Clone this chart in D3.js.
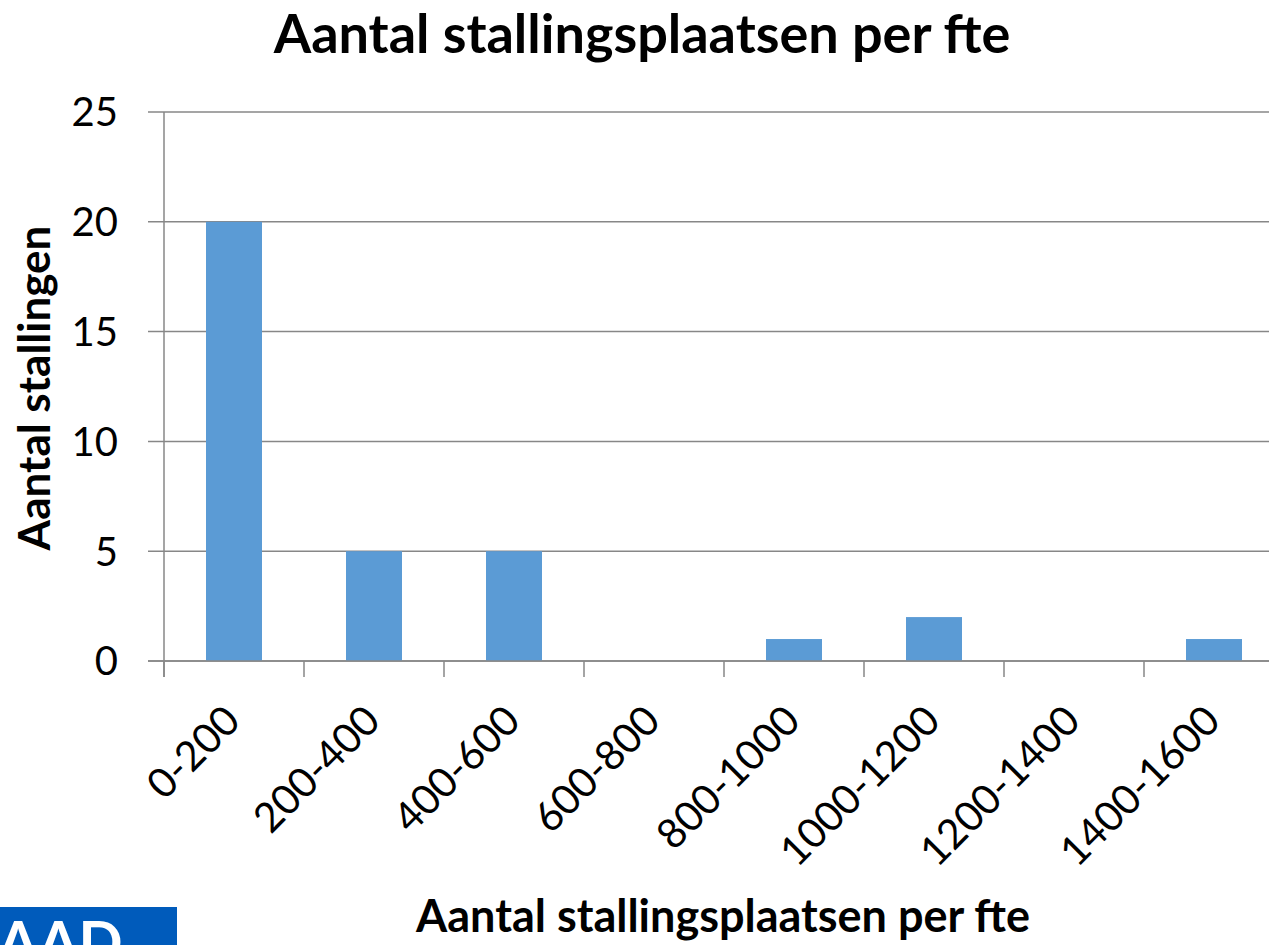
<!DOCTYPE html>
<html>
<head>
<meta charset="utf-8">
<script src="https://cdn.jsdelivr.net/npm/d3@7"></script>
<style>
  body { margin: 0; background: #fff; }
  svg { display: block; font-family: Lato, "Open Sans", sans-serif; }
</style>
</head>
<body>
<svg id="chart" width="1269" height="945"></svg>
<script>
// categories and values
var categories = ["0-200", "200-400", "400-600", "600-800", "800-1000", "1000-1200", "1200-1400", "1400-1600"];
var counts = [20, 5, 5, 0, 1, 2, 0, 1];
var yTicks = [0, 5, 10, 15, 20, 25];

var chartTitle = "Aantal stallingsplaatsen per fte";
var xTitle = "Aantal stallingsplaatsen per fte";
var yTitle = "Aantal stallingen";

var svg = d3.select("#chart");

// plot area (runs off the right edge, like the original)
var plotLeft = 164, plotRight = 1284, plotTop = 112, plotBottom = 661;

var x = d3.scaleBand()
    .domain(categories)
    .range([plotLeft, plotRight])
    .paddingInner(0.6)
    .paddingOuter(0.3);

var y = d3.scaleLinear()
    .domain([0, 25])
    .range([plotBottom, plotTop]);

var gridColor = "#878787";

// horizontal gridlines
svg.append("g")
    .selectAll("line")
    .data(yTicks)
    .enter().append("line")
    .attr("x1", plotLeft - 16)
    .attr("x2", plotRight)
    .attr("y1", function (d) { return y(d); })
    .attr("y2", function (d) { return y(d); })
    .attr("stroke", gridColor)
    .attr("stroke-width", 1.5);

// y axis line
svg.append("line")
    .attr("x1", plotLeft).attr("x2", plotLeft)
    .attr("y1", plotTop).attr("y2", plotBottom + 16)
    .attr("stroke", gridColor)
    .attr("stroke-width", 1.5);

// category separator ticks
var step = x.step();
svg.append("g")
    .selectAll("line")
    .data(d3.range(categories.length + 1))
    .enter().append("line")
    .attr("x1", function (i) { return plotLeft + i * step; })
    .attr("x2", function (i) { return plotLeft + i * step; })
    .attr("y1", plotBottom)
    .attr("y2", plotBottom + 16)
    .attr("stroke", gridColor)
    .attr("stroke-width", 1.5);

// bars
svg.append("g")
    .selectAll("rect")
    .data(counts)
    .enter().append("rect")
    .attr("x", function (d, i) { return x(categories[i]); })
    .attr("width", x.bandwidth())
    .attr("y", function (d) { return y(d); })
    .attr("height", function (d) { return plotBottom - y(d); })
    .attr("fill", "#5b9bd5");

// redraw the baseline on top of bars
svg.append("line")
    .attr("x1", plotLeft - 16).attr("x2", plotRight)
    .attr("y1", plotBottom).attr("y2", plotBottom)
    .attr("stroke", gridColor)
    .attr("stroke-width", 1.5);

// y tick labels
svg.append("g")
    .selectAll("text")
    .data(yTicks)
    .enter().append("text")
    .attr("x", 118)
    .attr("y", function (d) { return y(d); })
    .attr("dy", "0.36em")
    .attr("text-anchor", "end")
    .style("font-size", "40px")
    .text(function (d) { return d; });

// x tick labels, rotated -45
svg.append("g")
    .selectAll("text")
    .data(categories)
    .enter().append("text")
    .attr("transform", function (d) {
        return "translate(" + (x(d) + x.bandwidth() / 2 - 12) + "," + 703 + ") rotate(-45)";
    })
    .attr("text-anchor", "end")
    .attr("dy", "0.7em")
    .style("font-size", "41px")
    .text(function (d) { return d; });

// chart title
svg.append("text")
    .attr("x", 642)
    .attr("y", 53)
    .attr("text-anchor", "middle")
    .style("font-size", "54px")
    .style("font-weight", "bold")
    .text(chartTitle);

// y axis title
svg.append("text")
    .attr("transform", "translate(50,388) rotate(-90)")
    .attr("text-anchor", "middle")
    .style("font-size", "44px")
    .style("font-weight", "bold")
    .text(yTitle);

// x axis title
svg.append("text")
    .attr("x", 723)
    .attr("y", 932)
    .attr("text-anchor", "middle")
    .style("font-size", "45px")
    .style("font-weight", "bold")
    .text(xTitle);

// logo fragment in the lower left corner
svg.append("rect")
    .attr("x", 0).attr("y", 907)
    .attr("width", 177).attr("height", 38)
    .attr("fill", "#005bbb");
svg.append("text")
    .attr("x", -2)
    .attr("y", 963)
    .style("font-size", "58px")
    .style("font-weight", "bold")
    .attr("fill", "#fff")
    .text("AAD");
</script>
</body>
</html>
